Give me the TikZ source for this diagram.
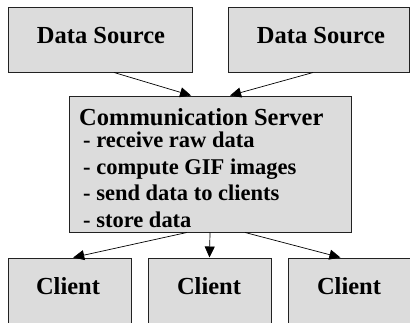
\documentclass[tikz,border=0pt]{standalone}
\usepackage{fontspec}
\setmainfont{Liberation Serif}
\usetikzlibrary{calc,arrows.meta}
\definecolor{boxgrey}{HTML}{DCDCDC}
\definecolor{edgegrey}{HTML}{222222}
\tikzset{
  box/.style={draw=edgegrey, line width=1pt, fill=boxgrey, inner sep=0pt},
  lbl/.style={inner sep=0pt, anchor=base, font=\bfseries\fontsize{24.5}{26}\selectfont},
  arr/.style={line width=0.7pt, -{Triangle[length=11pt,width=10pt]}},
  srvtext/.style={inner sep=0pt, anchor=base west, font=\bfseries\fontsize{22.5}{26}\selectfont}
}
\begin{document}
\begin{tikzpicture}[x=1pt,y=-1pt]
  \path[use as bounding box, clip] (0,0) rectangle (410,322);
  % sources
  \node[box, minimum width=184pt, minimum height=65pt] (src1) at (100,39.5) {};
  \node[box, minimum width=181pt, minimum height=65pt] (src2) at (318.5,39.5) {};
  \node[lbl] (src1t) at (101,43) {Data Source};
  \node[lbl] (src2t) at (321,43) {Data Source};
  % server with its list of tasks
  \node[box, minimum width=282pt, minimum height=136pt] (srv) at (210,164) {};
  \node[srvtext, font=\bfseries\fontsize{24.5}{26}\selectfont] (srvtitle) at (79,125) {Communication Server};
  \node[srvtext] (task1) at (83,147) {- receive raw data};
  \node[srvtext] (task2) at (83,174) {- compute GIF images};
  \node[srvtext] (task3) at (83,200) {- send data to clients};
  \node[srvtext] (task4) at (83,227) {- store data};
  % clients
  \node[box, minimum width=123pt, minimum height=65pt] (cl1) at (69.5,290.5) {};
  \node[box, minimum width=123pt, minimum height=65pt] (cl2) at (209.5,290.5) {};
  \node[box, minimum width=122pt, minimum height=65pt] (cl3) at (349,290.5) {};
  \node[lbl] (cl1t) at (68,294) {Client};
  \node[lbl] (cl2t) at (209,294) {Client};
  \node[lbl] (cl3t) at (349,294) {Client};
  % connectors
  \draw[arr] ($(src1.south west)!0.576!(src1.south east)$) -- ($(srv.north west)!0.433!(srv.north east)$);
  \draw[arr] ($(src2.south west)!0.47!(src2.south east)$) -- ($(srv.north west)!0.571!(srv.north east)$);
  \draw[arr] ($(srv.south west)!0.418!(srv.south east)$) -- ($(cl1.north west)!0.53!(cl1.north east)$);
  \draw[arr] ($(srv.south west)!0.5!(srv.south east)$) -- ($(cl2.north west)!0.5!(cl2.north east)$);
  \draw[arr] ($(srv.south west)!0.624!(srv.south east)$) -- ($(cl3.north west)!0.43!(cl3.north east)$);
\end{tikzpicture}
\end{document}
